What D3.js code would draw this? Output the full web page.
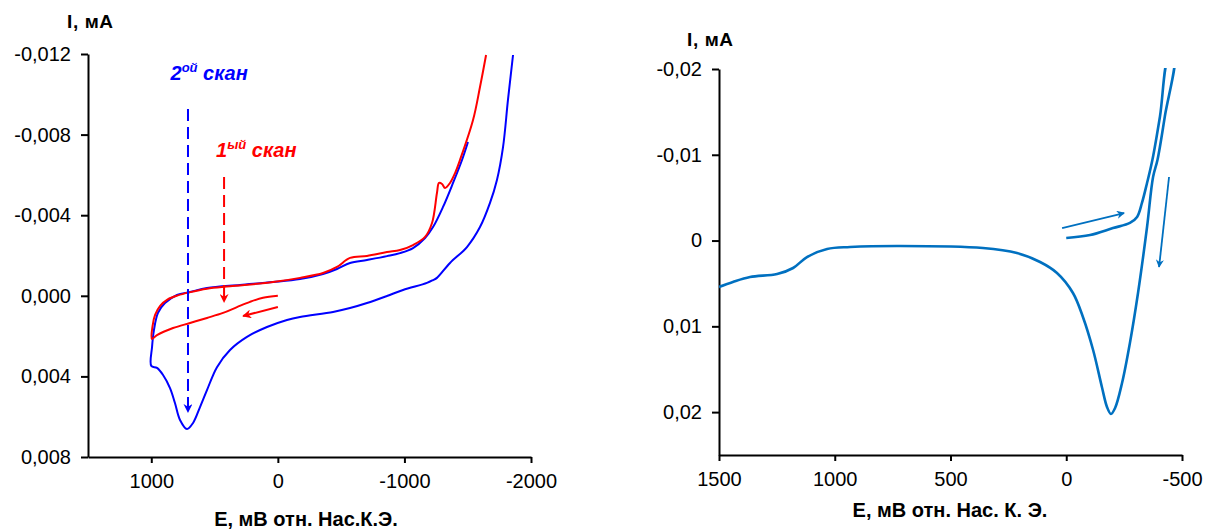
<!DOCTYPE html>
<html>
<head>
<meta charset="utf-8">
<script src="https://cdn.jsdelivr.net/npm/d3@7"></script>
<style>
body { margin: 0; background: #fff; }
text { font-family: "Liberation Sans", Arial, sans-serif; }
</style>
</head>
<body>
<div id="root"></div>
<script>
// ---- left chart: two CV scans (E in mV, I in mA)
const scan1E = [0, 117, 220, 323, 433, 560, 694, 828, 955, 995, 990, 970, 930, 870, 790, 700, 560, 378, 38, -175, -357, -467, -570, -704, -862, -965, -1068, -1163, -1218, -1257, -1273, -1297, -1321, -1360, -1400, -1439, -1542, -1597, -1645];
const scan1I = [0.0000, 0.0001, 0.0003, 0.00056, 0.00085, 0.0011, 0.00135, 0.0016, 0.00195, 0.00214, 0.00150, 0.00095, 0.00050, 0.00018, -0.00002, -0.00017, -0.00035, -0.00047, -0.00068, -0.00089, -0.00113, -0.00143, -0.00188, -0.00198, -0.00217, -0.00227, -0.00252, -0.00292, -0.00361, -0.0051, -0.0056, -0.00555, -0.00535, -0.0056, -0.00609, -0.00674, -0.00872, -0.01036, -0.01195];

const scan2E = [-1502, -1455, -1384, -1305, -1226, -1163, -1068, -965, -862, -704, -570, -467, -357, -175, 38, 299, 560, 694, 797, 892, 947, 979, 994, 1000, 955, 907, 852, 813, 773, 718, 670, 615, 560, 481, 378, 244, 86, -72, -175, -436, -570, -704, -862, -989, -1178, -1226, -1257, -1360, -1494, -1597, -1676, -1731, -1779, -1818, -1858];
const scan2I = [-0.00763, -0.00674, -0.0056, -0.00441, -0.00341, -0.00287, -0.00237, -0.00212, -0.00197, -0.00178, -0.00163, -0.00133, -0.00108, -0.00083, -0.00068, -0.00054, -0.00039, -0.00019, -0.00004, 0.00036, 0.00085, 0.0017, 0.00254, 0.00348, 0.00358, 0.00393, 0.00458, 0.00532, 0.00616, 0.00661, 0.00631, 0.00552, 0.00468, 0.00354, 0.00269, 0.00204, 0.00155, 0.0012, 0.00105, 0.0008, 0.00061, 0.00036, 0.00001, -0.00029, -0.00064, -0.00078, -0.00089, -0.00163, -0.00242, -0.00341, -0.00461, -0.00575, -0.00738, -0.00972, -0.01195];

const leftXTicks = [1000, 0, -1000, -2000];
const leftYTicks = [-0.012, -0.008, -0.004, 0, 0.004, 0.008];

// annotation arrows, [E1, I1, E2, I2]
const scan2Pointer = [710, -0.00927, 710, 0.00577];
const scan1Pointer = [425, -0.0059, 425, 0.00031];
const scan1Direction = [0, 0.00056, 275, 0.001];

// ---- right chart: single CV (runs past the top edge, clipped there)
const cvE = [0, -103, -202, -275, -306, -327, -349, -372, -405, -444, -466, -426, -394, -375, -349, -310, -275, -241, -211, -193, -176, -154, -116, -72, -29, 40, 113, 213, 360, 718, 934, 1033, 1120, 1180, 1249, 1366, 1440, 1500];
const cvI = [-0.0003, -0.00065, -0.00146, -0.00205, -0.00275, -0.00438, -0.00671, -0.00939, -0.0145, -0.0215, -0.0215, -0.0145, -0.00939, -0.00741, -0.00158, 0.00611, 0.01194, 0.01661, 0.01952, 0.02022, 0.0194, 0.01707, 0.01276, 0.00891, 0.00611, 0.00378, 0.0025, 0.00145, 0.00087, 0.00063, 0.00075, 0.00098, 0.00192, 0.0032, 0.0039, 0.00425, 0.00483, 0.00541];

const rightXTicks = [1500, 1000, 500, 0, -500];
const rightYTicks = [-0.02, -0.01, 0, 0.01, 0.02];

const cvArrowIn = [18, -0.00146, -250, -0.00321];
const cvArrowOut = [-444, -0.00741, -401, 0.00308];

const W = 1205, H = 529;

const svg = d3.select("#root").append("svg")
    .attr("width", W)
    .attr("height", H);

const defs = svg.append("defs");
function marker(id, color) {
    defs.append("marker")
        .attr("id", id)
        .attr("viewBox", "0 0 10 10")
        .attr("refX", 9).attr("refY", 5)
        .attr("markerWidth", 4.5).attr("markerHeight", 4.5)
        .attr("markerUnits", "strokeWidth")
        .attr("orient", "auto")
        .append("path")
        .attr("d", "M0,0 L10,5 L0,10 L3,5 z")
        .attr("fill", color);
}
marker("head-blue", "#0000ff");
marker("head-red", "#ff0000");
marker("head-cv", "#0070c0");

const zip = (xs, ys) => xs.map((x, i) => [x, ys[i]]);

function drawAxes(g, x, y, xTicks, yTicks, yFmt) {
    const xAxis = g.append("g")
        .attr("transform", "translate(0," + y.range()[1] + ")")
        .call(d3.axisBottom(x).tickValues(xTicks).tickFormat((d) => String(d))
            .tickSize(6).tickSizeOuter(0).tickPadding(11));
    const yAxis = g.append("g")
        .attr("transform", "translate(" + x.range()[0] + ",0)")
        .call(d3.axisLeft(y).tickValues(yTicks).tickFormat(yFmt)
            .tickSize(7).tickSizeOuter(0).tickPadding(10));
    [xAxis, yAxis].forEach((a) => {
        a.select(".domain").attr("stroke", "#000").attr("stroke-width", 2);
        a.selectAll(".tick line").attr("stroke", "#000").attr("stroke-width", 2);
        a.selectAll(".tick text")
            .attr("fill", "#000")
            .style("font-size", "20px")
            .style("font-family", '"Liberation Sans", Arial, sans-serif');
    });
}

function arrow(g, x, y, a, color, width, dash, head) {
    g.append("line")
        .attr("x1", x(a[0])).attr("y1", y(a[1]))
        .attr("x2", x(a[2])).attr("y2", y(a[3]))
        .attr("stroke", color)
        .attr("stroke-width", width)
        .attr("stroke-dasharray", dash)
        .attr("marker-end", "url(#" + head + ")");
}

// ---------- left chart
const xL = d3.scaleLinear().domain([1500, -2000]).range([88, 531]);
const yL = d3.scaleLinear().domain([-0.012, 0.008]).range([54, 457]);
const left = svg.append("g");

drawAxes(left, xL, yL, leftXTicks, leftYTicks, (d) => d.toFixed(3).replace(".", ","));

const lineL = d3.line()
    .x((d) => xL(d[0]))
    .y((d) => yL(d[1]))
    .curve(d3.curveCatmullRom.alpha(0.5));

left.append("path")
    .attr("d", lineL(zip(scan2E, scan2I)))
    .attr("fill", "none").attr("stroke", "#0000ff").attr("stroke-width", 2);
left.append("path")
    .attr("d", lineL(zip(scan1E, scan1I)))
    .attr("fill", "none").attr("stroke", "#ff0000").attr("stroke-width", 2);

arrow(left, xL, yL, scan2Pointer, "#0000ff", 2, "12,6", "head-blue");
arrow(left, xL, yL, scan1Pointer, "#ff0000", 2, "12,6", "head-red");
arrow(left, xL, yL, scan1Direction, "#ff0000", 2, null, "head-red");

function scanLabel(g, px, py, num, sup, color) {
    const t = g.append("text")
        .attr("x", px).attr("y", py)
        .attr("fill", color)
        .style("font-size", "20px")
        .style("font-weight", "bold")
        .style("font-style", "italic");
    t.append("tspan").text(num);
    t.append("tspan").text(sup).style("font-size", "13px").attr("dy", -8);
    t.append("tspan").text(" скан").attr("dy", 8);
}
scanLabel(left, xL(848), yL(-0.0107), "2", "ой", "#0000ff");
scanLabel(left, xL(488), yL(-0.0069), "1", "ый", "#ff0000");

left.append("text")
    .attr("x", 67).attr("y", 28)
    .style("font-size", "19px").style("font-weight", "bold")
    .style("letter-spacing", "0.6px")
    .text("I, мА");
left.append("text")
    .attr("x", 306).attr("y", 526)
    .attr("text-anchor", "middle")
    .style("font-size", "20px").style("font-weight", "bold")
    .text("E, мВ отн. Нас.К.Э.");

// ---------- right chart
const xR = d3.scaleLinear().domain([1500, -500]).range([719, 1182]);
const yR = d3.scaleLinear().domain([-0.02, 0.025]).range([69, 455]);
const right = svg.append("g");

defs.append("clipPath").attr("id", "clip-right")
    .append("rect")
    .attr("x", xR.range()[0]).attr("y", yR.range()[0] - 1)
    .attr("width", W - xR.range()[0])
    .attr("height", yR.range()[1] - yR.range()[0] + 1);

drawAxes(right, xR, yR, rightXTicks, rightYTicks, (d) => d === 0 ? "0" : d.toFixed(2).replace(".", ","));

const lineR = d3.line()
    .x((d) => xR(d[0]))
    .y((d) => yR(d[1]))
    .curve(d3.curveCatmullRom.alpha(0.5));

right.append("path")
    .attr("d", lineR(zip(cvE, cvI)))
    .attr("clip-path", "url(#clip-right)")
    .attr("fill", "none").attr("stroke", "#0070c0").attr("stroke-width", 2.6);

arrow(right, xR, yR, cvArrowIn, "#0070c0", 1.8, null, "head-cv");
arrow(right, xR, yR, cvArrowOut, "#0070c0", 1.8, null, "head-cv");

right.append("text")
    .attr("x", 687).attr("y", 46)
    .style("font-size", "19px").style("font-weight", "bold")
    .style("letter-spacing", "0.6px")
    .text("I, мА");
right.append("text")
    .attr("x", 950).attr("y", 517)
    .attr("text-anchor", "middle")
    .style("font-size", "20px").style("font-weight", "bold")
    .text("E, мВ отн. Нас. К. Э.");
</script>
</body>
</html>
